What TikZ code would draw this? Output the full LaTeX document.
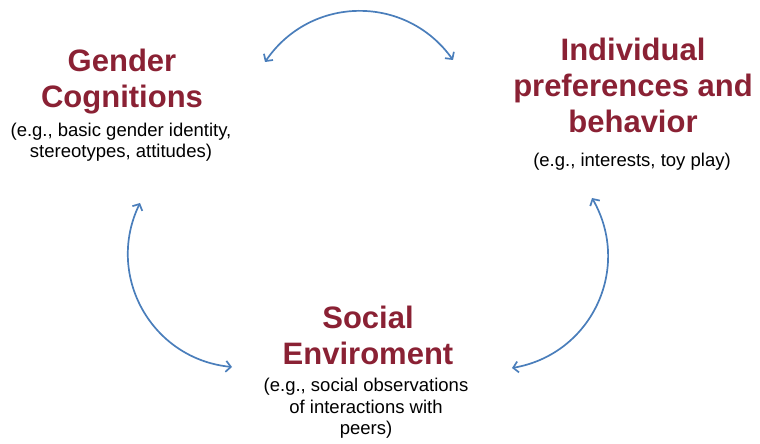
\documentclass[tikz,border=0pt]{standalone}
\usepackage{fontspec}
\setmainfont{Liberation Sans}
\usetikzlibrary{positioning, arrows.meta}
\definecolor{titlered}{RGB}{138,33,52}
\definecolor{arcblue}{RGB}{74,126,187}

\begin{document}
\begin{tikzpicture}[x=1pt, y=1pt, >={Straight Barb[length=5pt,width=11pt]},
  heading/.style={text=titlered, font=\fontsize{31}{36}\selectfont\bfseries, align=center, anchor=base, inner sep=0pt},
  note/.style={font=\fontsize{18.5}{21.5}\selectfont, align=center, anchor=base, inner sep=0pt},
  cycle/.style={<->, arcblue, line width=1.7pt, bend left=55, looseness=1.1}]
  \useasboundingbox (0,0) rectangle (760,444);

  \node[heading] (cognitions) at (122,336) {Gender\\Cognitions};
  \node[note] (cognotes) at (121,286) {(e.g., basic gender identity,\\stereotypes, attitudes)};
  \node[heading] (preferences) at (633,311) {Individual\\preferences and\\behavior};
  \node[note] (prefnotes) at (632,277) {(e.g., interests, toy play)};
  \node[heading] (environment) at (368,79) {Social\\Enviroment};
  \node[note] (envnotes) at (366,9) {(e.g., social observations\\of interactions with\\peers)};

  % ends of the arcs
  \coordinate (cogright) at (265,382);
  \coordinate (prefleft) at (453,384);
  \coordinate (prefdown) at (592,246);
  \coordinate (envright) at (512,76);
  \coordinate (envleft) at (232,77);
  \coordinate (cogdown) at (140,241);

  \draw[cycle] (cogright) to (prefleft);
  \draw[cycle] (prefdown) to (envright);
  \draw[cycle] (envleft) to (cogdown);
\end{tikzpicture}
\end{document}
